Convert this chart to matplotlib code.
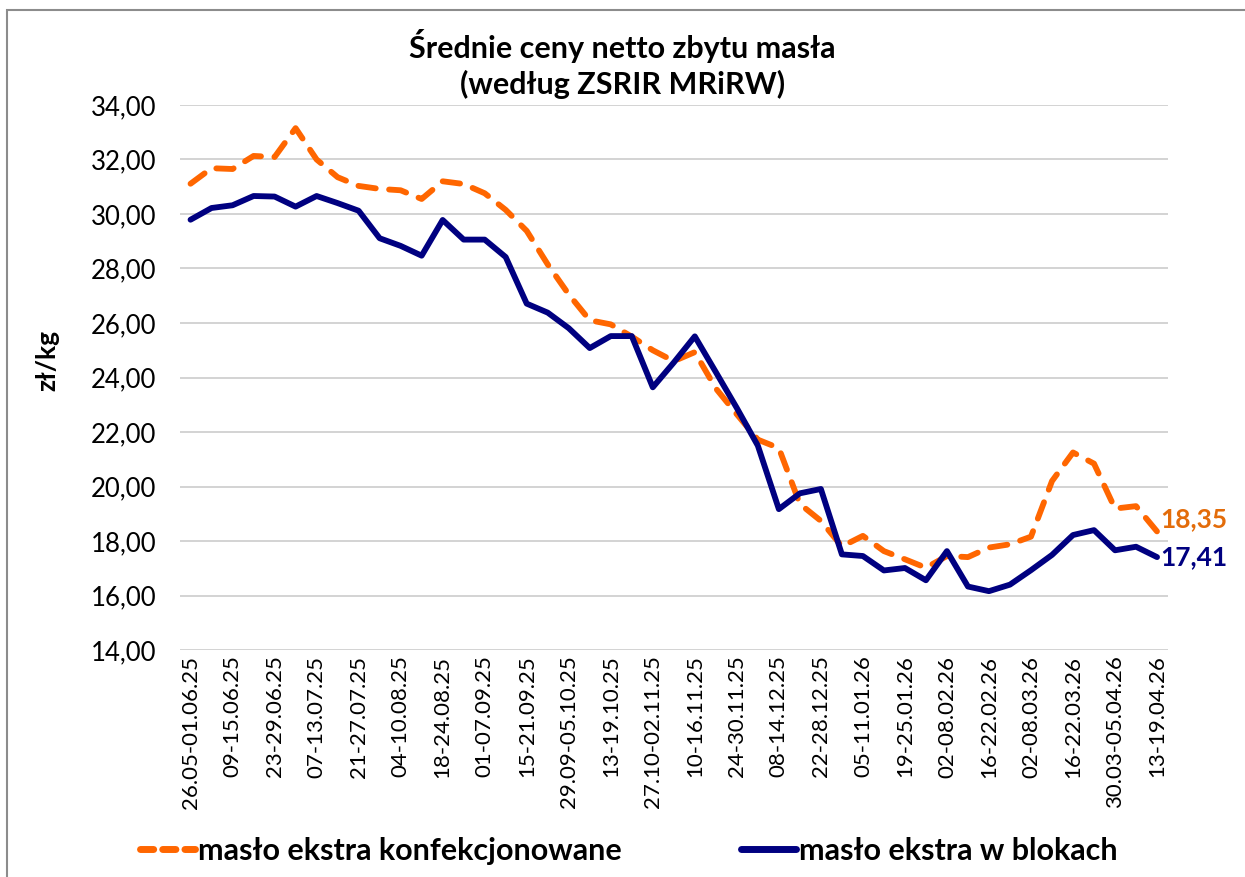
import numpy as np
import matplotlib
matplotlib.use('Agg')
import matplotlib.pyplot as plt
from matplotlib.lines import Line2D
from matplotlib.patches import Rectangle

# dane: tygodniowe ceny masła (zł/kg)
weeks = [
    "26.05-01.06.25", "02-08.06.25", "09-15.06.25", "16-22.06.25", "23-29.06.25",
    "30.06-06.07.25", "07-13.07.25", "14-20.07.25", "21-27.07.25", "28.07-03.08.25",
    "04-10.08.25", "11-17.08.25", "18-24.08.25", "25-31.08.25", "01-07.09.25",
    "08-14.09.25", "15-21.09.25", "22-28.09.25", "29.09-05.10.25", "06-12.10.25",
    "13-19.10.25", "20-26.10.25", "27.10-02.11.25", "03-09.11.25", "10-16.11.25",
    "17-23.11.25", "24-30.11.25", "01-07.12.25", "08-14.12.25", "15-21.12.25",
    "22-28.12.25", "29.12-04.01.26", "05-11.01.26", "12-18.01.26", "19-25.01.26",
    "26.01-01.02.26", "02-08.02.26", "09-15.02.26", "16-22.02.26", "23.02-01.03.26",
    "02-08.03.26", "09-15.03.26", "16-22.03.26", "23-29.03.26", "30.03-05.04.26",
    "06-12.04.26", "13-19.04.26",
]
konfekcjonowane = [
    31.11, 31.68, 31.65, 32.13, 32.09, 33.15, 32.00, 31.35, 31.03, 30.92,
    30.87, 30.55, 31.20, 31.10, 30.76, 30.15, 29.38, 28.15, 27.05, 26.10,
    25.95, 25.50, 25.00, 24.60, 24.93, 23.60, 22.65, 21.72, 21.41, 19.36,
    18.74, 17.80, 18.19, 17.63, 17.33, 17.02, 17.45, 17.41, 17.76, 17.88,
    18.16, 20.20, 21.25, 20.84, 19.19, 19.28, 18.35,
]
w_blokach = [
    29.79, 30.22, 30.32, 30.66, 30.64, 30.27, 30.66, 30.40, 30.12, 29.11,
    28.83, 28.47, 29.78, 29.06, 29.06, 28.42, 26.71, 26.38, 25.81, 25.08,
    25.52, 25.52, 23.64, 24.55, 25.51, 24.20, 22.88, 21.50, 19.17, 19.75,
    19.91, 17.51, 17.45, 16.92, 17.01, 16.56, 17.63, 16.33, 16.16, 16.40,
    16.93, 17.49, 18.22, 18.40, 17.66, 17.79, 17.41,
]
y_ticks = [14, 16, 18, 20, 22, 24, 26, 28, 30, 32, 34]

c_orange = '#FF6600'
c_orange_txt = '#E36C0A'
c_navy = '#000080'

plt.rcParams['font.family'] = ['Lato', 'DejaVu Sans']

fig = plt.figure(figsize=(12.45, 8.77), dpi=100)
fig.patches.append(Rectangle((7 / 1245, -0.1), 1.2, 1 - 10 / 877 + 0.1,
                             transform=fig.transFigure, fill=False,
                             edgecolor='#8C8C8C', linewidth=1.5))

ax = fig.add_axes([0.1446, 0.2588, 0.7932, 0.6215])
x = np.arange(len(weeks))

ax.plot(x, konfekcjonowane, color=c_orange, linewidth=4.2, linestyle=(0, (3.0, 2.3)),
        dash_capstyle='round', solid_joinstyle='round', zorder=3)
ax.plot(x, w_blokach, color=c_navy, linewidth=4.2, solid_joinstyle='round',
        solid_capstyle='round', zorder=4)

ax.set_xlim(-0.5, len(weeks) - 0.5)
ax.set_ylim(14, 34)
ax.set_yticks(y_ticks)
ax.set_yticklabels([f"{v:.2f}".replace('.', ',') for v in y_ticks], fontsize=18.5)
ax.set_xticks(x[::2])
ax.set_xticklabels(weeks[::2], rotation=90, fontsize=16)
ax.tick_params(axis='x', length=0, pad=4)
ax.tick_params(axis='y', length=0, pad=17)
ax.grid(axis='y', color='#D0D0D0', linewidth=1.3)
ax.set_axisbelow(True)
for s in ax.spines.values():
    s.set_visible(False)
ax.set_ylabel('zł/kg', fontsize=19, fontweight='bold')
ax.yaxis.set_label_coords(-0.122, 0.532)

# etykiety ostatnich wartości
ax.annotate(f"{konfekcjonowane[-1]:.2f}".replace('.', ','), (x[-1], konfekcjonowane[-1]),
            xytext=(2, 9), textcoords='offset points', color=c_orange_txt,
            fontsize=19, fontweight='bold', va='center', ha='left', annotation_clip=False)
ax.annotate(f"{w_blokach[-1]:.2f}".replace('.', ','), (x[-1], w_blokach[-1]),
            xytext=(2, 0), textcoords='offset points', color=c_navy,
            fontsize=19, fontweight='bold', va='center', ha='left', annotation_clip=False)

fig.text(0.5, 0.948, 'Średnie ceny netto zbytu masła', ha='center', va='center',
         fontsize=22, fontweight='bold')
fig.text(0.5, 0.904, '(według ZSRIR MRiRW)', ha='center', va='center',
         fontsize=22, fontweight='bold')

handles = [
    Line2D([], [], color=c_orange, linewidth=5, linestyle=(0, (1.9, 1.3)), dash_capstyle='round'),
    Line2D([], [], color=c_navy, linewidth=5, solid_capstyle='round'),
]
fig.legend(handles, ['masło ekstra konfekcjonowane', 'masło ekstra w blokach'],
           loc='center', bbox_to_anchor=(0.505, 0.03), ncol=2, frameon=False,
           prop={'size': 22, 'weight': 'bold'}, handlelength=1.8, handletextpad=0.1,
           columnspacing=3.9)

fig.savefig('out.png', dpi=100)
